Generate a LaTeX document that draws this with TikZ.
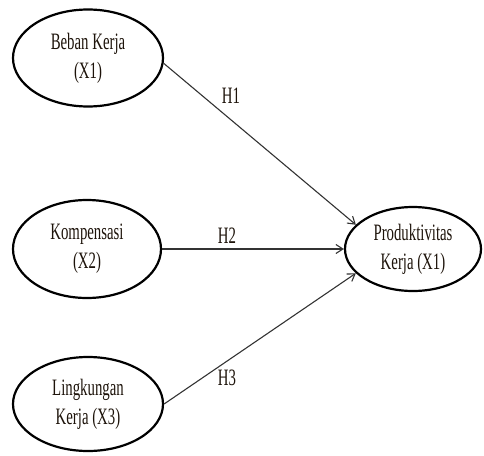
\documentclass[tikz,border=0pt]{standalone}
\usepackage{fontspec}
\setmainfont{Liberation Serif}[FakeStretch=0.63]
\usetikzlibrary{shapes.geometric,arrows.meta}
\begin{document}
\begin{tikzpicture}[x=1pt,y=-1pt,
  var/.style={ellipse,draw=black,line width=2.2pt,inner sep=0pt,align=center,
    font=\fontsize{23.5}{29}\selectfont,text=black!85!brown},
  path/.style={draw=black!80,line width=1.1pt,-{Straight Barb[length=7pt,width=9pt]}},
  hlab/.style={font=\fontsize{23.5}{29}\selectfont,text=black!85!brown,inner sep=0pt}]
\useasboundingbox (0,0) rectangle (484,455);
\node[var,minimum width=150pt,minimum height=97pt] (x1) at (88,58) {Beban Kerja\\(X1)};
\node[var,minimum width=148pt,minimum height=98pt] (x2) at (87,249) {Kompensasi\\(X2)};
\node[var,minimum width=150pt,minimum height=94pt] (x3) at (88,404) {Lingkungan\\Kerja (X3)};
\node[var,minimum width=136pt,minimum height=84pt] (y) at (413,249) {Produktivitas\\Kerja (X1)};
\draw[path] (x1.-4) -- (y.157);
\draw[path] (x2.east) -- (y.west);
\draw[path] (x3.east) -- (y.203);
\node[hlab] (h1) at (231,96) {H1};
\node[hlab] (h2) at (227,236) {H2};
\node[hlab] (h3) at (227,378) {H3};
\end{tikzpicture}
\end{document}
